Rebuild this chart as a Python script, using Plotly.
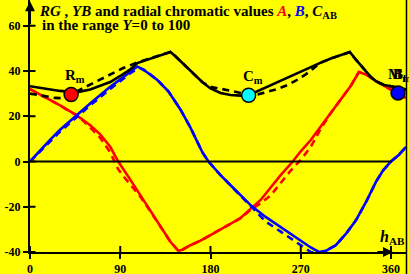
import plotly.graph_objects as go

# ---------------- data ----------------
A_h = [0, 10, 20, 30, 40, 50, 60, 70, 80, 88, 100, 110, 120, 130, 140, 148, 152, 160, 170, 180,
       190, 200, 210, 221, 230, 240, 250, 262, 270, 280, 290, 300, 310, 320, 328, 335, 345, 355, 360, 375]
A_v = [32, 29.7, 27.3, 24.8, 22.2, 19.3, 16, 12, 6.5, 0, -8, -15, -22, -29, -35.5, -39.5, -39, -37, -35, -32.5,
       -30, -27.5, -25, -20.5, -17, -11.5, -6, 0, 4.5, 9.5, 15.5, 21.5, 27.5, 33.5, 39.5, 38.5, 35.5, 33, 32, 28]

Ad_h = [0, 10, 20, 30, 40, 47, 60, 70, 80, 88, 95, 101, 110, 120, 130, 140, 148, 152, 160, 170, 180,
        190, 200, 210, 221, 230, 240, 250, 260, 270, 280, 290, 300, 310, 320, 328, 335, 345, 355, 360, 375]
Ad_v = [32, 29.7, 27.3, 24.8, 22, 20.5, 15, 10.5, 4, -3.5, -7.5, -10.5, -15.5, -22, -29, -35.5, -39.5, -39, -37, -35, -32.5,
        -30, -27.5, -25, -21, -18.5, -15, -9.5, -4, 0.7, 6.5, 14.5, 21.5, 27.5, 33.5, 39.5, 38.5, 35.5, 33, 32, 28]

B_h = [0, 10, 20, 30, 47, 60, 80, 100, 107, 115, 127, 138, 150, 160, 172, 178, 190, 200, 210, 221,
       235, 250, 265, 280, 288, 295, 305, 315, 325, 335, 345, 352, 360, 368, 375]
B_v = [0, 5, 9.6, 14, 20.8, 25.6, 33, 39.8, 42, 40, 36, 31, 23, 15, 4, 0, -6, -10.5, -15, -19.7,
       -24.5, -29, -33.5, -38, -40, -39.5, -37, -32, -26, -18, -9, -4, 0, 3, 6.5]

Bd_h = [0, 10, 20, 30, 47, 60, 80, 100, 109, 115, 127, 138, 150, 160, 172, 178, 190, 200, 210, 221,
        235, 250, 265, 280, 290, 295, 305, 315, 325, 335, 345, 352, 360, 368, 375]
Bd_v = [0, 4.2, 8.8, 13.2, 20, 24.8, 32, 39, 41.5, 40.3, 36, 31, 23, 15, 4, 0, -6, -10.5, -15, -20,
        -26.5, -31, -35.5, -40, -40.5, -39.5, -37, -32, -26, -18, -9, -4, 0, 3, 6.5]

C_h = [0, 10, 20, 30, 40, 50, 60, 70, 80, 90, 100, 107, 120, 130, 140, 145, 155, 165, 172, 180,
       190, 200, 210, 218, 230, 240, 250, 260, 270, 280, 290, 300, 310, 319, 325, 330, 335, 340, 345,
       353, 360, 367, 375]
C_v = [33.3, 32.5, 31.8, 31.2, 30.8, 30.9, 31.8, 33.3, 35.1, 37.8, 40.7, 43.5, 45.5, 47, 48.4, 46.5, 42.3, 38, 35, 32.3,
       30.3, 29.4, 29.1, 29.3, 31.7, 33.7, 35.8, 37.8, 39.9, 41.7, 43.7, 45.5, 47, 48.4, 45, 42.3, 39.7, 37.3, 35.5,
       33.8, 33.3, 32.5, 31.8]

Cd_h = [0, 7, 15, 25, 33, 41, 50, 60, 67, 80, 93, 107, 120, 130, 140, 145, 155, 165, 172, 180,
        190, 200, 210, 218, 225, 235, 245, 255, 265, 275, 285, 290, 300, 310, 319, 325, 330, 335, 340, 345,
        353, 360, 367, 375]
Cd_v = [30, 29.4, 28.8, 28.1, 28, 29.6, 31.8, 34, 35.3, 38.2, 41.3, 43.8, 45.5, 47, 48.4, 46.5, 42.3, 38, 35, 33,
        32.3, 31.3, 30.3, 29.3, 29.4, 30.6, 31.8, 33.5, 35.7, 38.5, 42, 43.7, 45.5, 47, 48.4, 45, 42.3, 39.7, 37.3, 35.5,
        33.8, 33.3, 32.5, 31.8]

mark_names = ["R<sub>m</sub>", "C<sub>m</sub>", "B<sub>l</sub>"]
mark_h = [41, 218, 367]
mark_v = [29.6, 29.3, 30.3]
mark_col = ["#ff0000", "#00ffff", "#0000ff"]

x_ticks = [0, 90, 180, 270, 360]
y_ticks = [-40, -20, 0, 20, 40, 60]
y_ticktext = ["-40", "-20", "0", "20", "40", "60"]

# ---------------- layout helpers ----------------
W, H = 409, 274
ML, MR, MT, MB = 30, 2, 0, 22
PW, PH = W - ML - MR, H - MT - MB
XMAX = PW / (361 / 360)
Y0PX = 161.5
YS = 90.5 / 40
YMAX = (Y0PX - MT) / YS


def paper(xp, yp):
    return (xp - ML) / PW, 1 - (yp - MT) / PH


FONT = "Liberation Serif, Times New Roman, serif"
YEL = "#ffff00"

fig = go.Figure()

LW = 2.6
dash = "7px,5px"
fig.add_trace(go.Scatter(x=A_h, y=A_v, mode="lines", line=dict(color="#ff0000", width=LW)))
fig.add_trace(go.Scatter(x=Ad_h, y=Ad_v, mode="lines", line=dict(color="#ff0000", width=LW, dash=dash)))
fig.add_trace(go.Scatter(x=B_h, y=B_v, mode="lines", line=dict(color="#0000ff", width=LW)))
fig.add_trace(go.Scatter(x=Bd_h, y=Bd_v, mode="lines", line=dict(color="#0000ff", width=LW, dash=dash)))
fig.add_trace(go.Scatter(x=C_h, y=C_v, mode="lines", line=dict(color="#000000", width=LW)))
fig.add_trace(go.Scatter(x=Cd_h, y=Cd_v, mode="lines", line=dict(color="#000000", width=LW, dash=dash)))

fig.add_trace(go.Scatter(x=mark_h, y=mark_v, mode="markers",
                         marker=dict(size=14, color=mark_col, line=dict(color="black", width=1.5)),
                         cliponaxis=False))

shapes = []
# zero line
shapes.append(dict(type="line", xref="x", yref="y", x0=0, x1=361, y0=0, y1=0,
                   line=dict(color="black", width=2)))
# inside halves of ticks
for xv in x_ticks:
    shapes.append(dict(type="line", xref="x", yref="y", x0=xv, x1=xv, y0=-40, y1=-40 + 6 / YS,
                       line=dict(color="black", width=2)))
for yv in y_ticks:
    shapes.append(dict(type="line", xref="x", yref="y", x0=0, x1=5.5, y0=yv, y1=yv,
                       line=dict(color="black", width=2)))
# right frame line
shapes.append(dict(type="line", xref="paper", yref="paper", x0=1 - 0.5 / PW, x1=1 - 0.5 / PW,
                   y0=-MB / PH, y1=1, line=dict(color="black", width=1.5)))

ann = []
# axis arrows
ann.append(dict(x=362, y=-40, ax=345, ay=-40, xref="x", yref="y", axref="x", ayref="y",
                showarrow=True, arrowhead=2, arrowsize=1, arrowwidth=2, arrowcolor="black", text=""))
ann.append(dict(x=0, y=70.8, ax=0, ay=60, xref="x", yref="y", axref="x", ayref="y",
                showarrow=True, arrowhead=2, arrowsize=1, arrowwidth=2, arrowcolor="black", text=""))

TF = dict(family=FONT, size=15, color="black", weight="bold")
tx, ty = paper(37, 12)
ann.append(dict(xref="paper", yref="paper", x=tx, y=ty, xanchor="left", yanchor="middle", showarrow=False,
                text="<i>RG</i> , <i>YB</i> and radial chromatic values "
                     "<i><span style='color:#ff0000'>A</span></i>, "
                     "<i><span style='color:#0000ff'>B</span></i>, <i>C</i><sub>AB</sub>",
                font=TF))
tx, ty = paper(40, 25)
ann.append(dict(xref="paper", yref="paper", x=tx, y=ty, xanchor="left", yanchor="middle", showarrow=False,
                text="in the range <i>Y</i>=0 to 100", font=TF))
tx, ty = paper(407, 237)
ann.append(dict(xref="paper", yref="paper", x=tx, y=ty, xanchor="right", yanchor="middle", showarrow=False,
                text="<i>h</i><sub>AB</sub>",
                font=dict(family=FONT, size=16, color="black", weight="bold")))
# marker labels
for name, hx, vy in zip(mark_names + ["M<sub>m</sub>"], [mark_h[0] + 4, mark_h[1] + 4, mark_h[2] + 1, mark_h[2] + 1],
                        mark_v + [mark_v[2]]):
    ann.append(dict(xref="x", yref="y", x=hx, y=vy + 3.2, xanchor="center", yanchor="bottom",
                    showarrow=False, text=name,
                    font=dict(family=FONT, size=15, color="black", weight="bold")))

fig.update_layout(
    width=W, height=H,
    margin=dict(l=ML, r=MR, t=MT, b=MB, pad=0, autoexpand=False),
    paper_bgcolor=YEL, plot_bgcolor=YEL,
    showlegend=False,
    shapes=shapes, annotations=ann,
    xaxis=dict(range=[0, XMAX], automargin=False, showgrid=False, zeroline=False, showline=True,
               linecolor="black", linewidth=2, ticks="outside", ticklen=5, tickwidth=2, tickcolor="black",
               tickvals=x_ticks, ticktext=[str(v) for v in x_ticks],
               tickfont=dict(family=FONT, size=12, color="black", weight="bold")),
    yaxis=dict(range=[-40, YMAX], automargin=False, showgrid=False, zeroline=False, showline=True,
               linecolor="black", linewidth=2, ticks="outside", ticklen=5, tickwidth=2, tickcolor="black",
               tickvals=y_ticks, ticktext=y_ticktext,
               tickfont=dict(family=FONT, size=12, color="black", weight="bold")),
)

fig.write_html("out.html", config={"displayModeBar": False},
               post_script="document.body.style.margin='0px';document.body.style.padding='0px';")
